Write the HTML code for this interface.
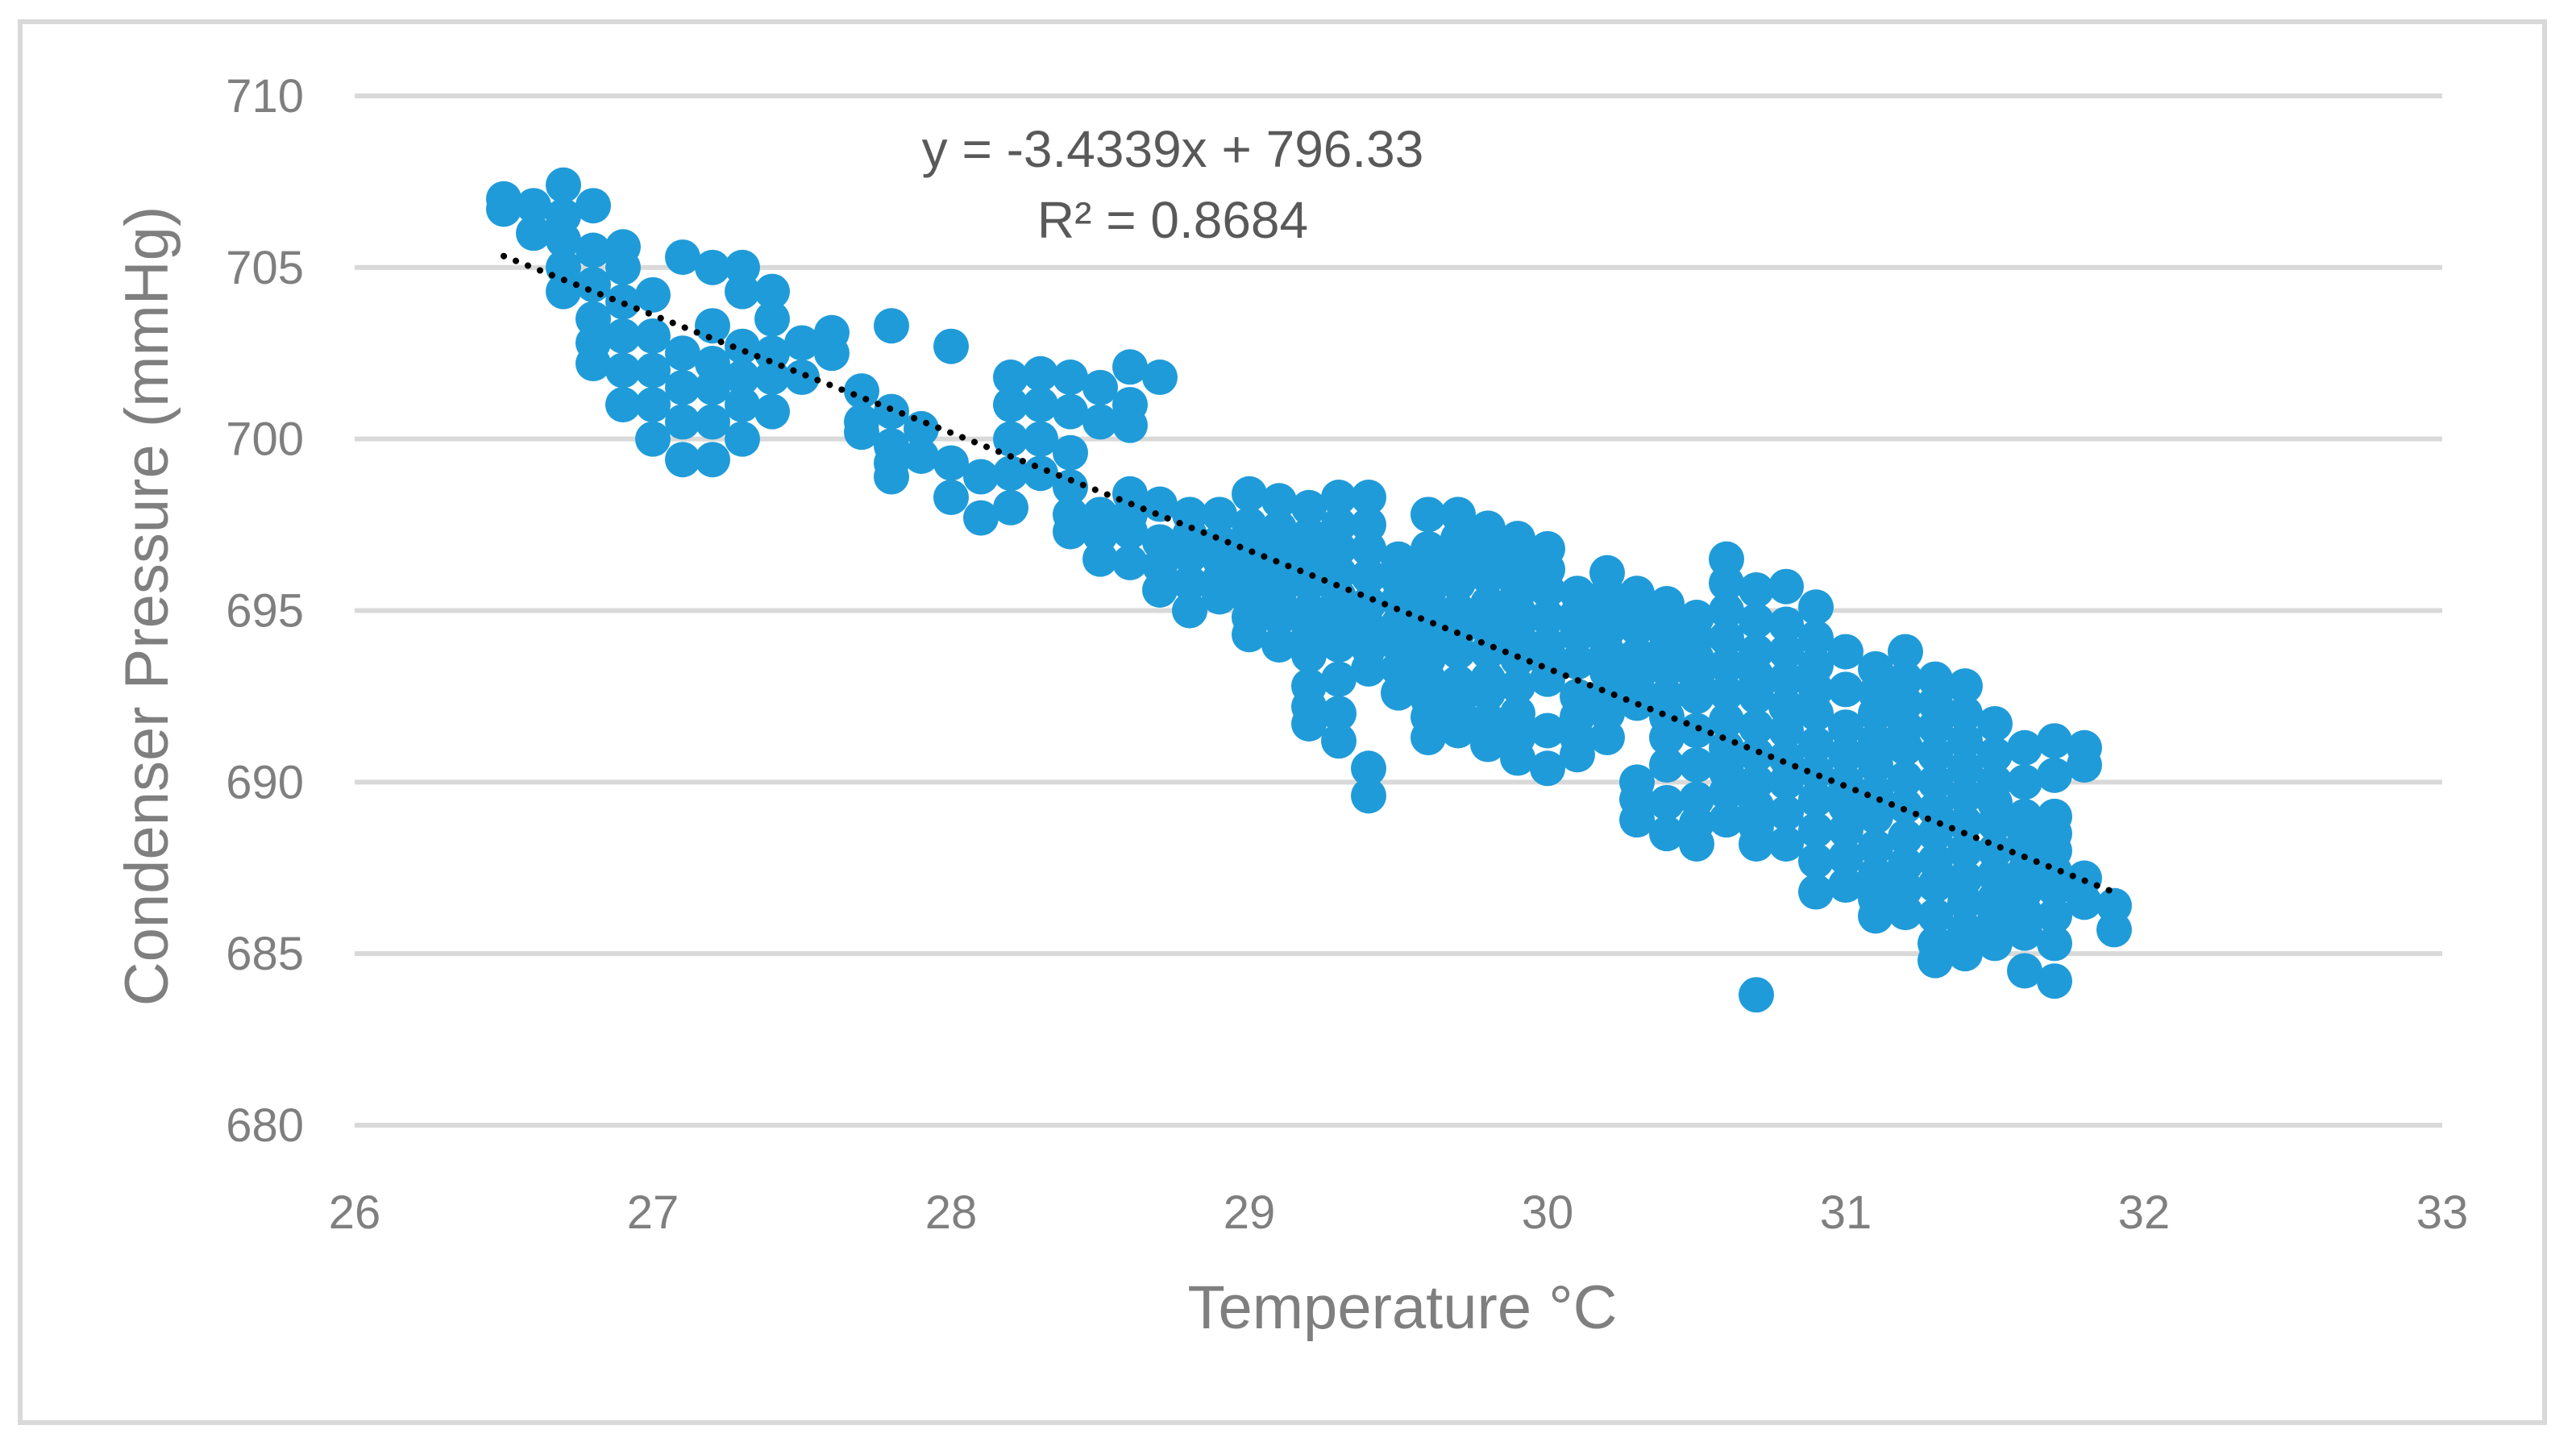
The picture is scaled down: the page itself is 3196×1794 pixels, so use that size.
<!DOCTYPE html>
<html><head><meta charset="utf-8"><style>
html,body{margin:0;padding:0;background:#fff;}
svg{display:block;font-family:"Liberation Sans",sans-serif;}
</style></head><body>
<svg id="chart" width="3196" height="1794" viewBox="0 0 3196 1794">
<rect x="25" y="27" width="3132" height="1738" fill="#fff" stroke="#d9d9d9" stroke-width="6"/>
<g id="grid"></g>
<g id="yticks"></g>
<g id="xticks"></g>
<g id="points"></g>
<line id="trend" stroke="#000" stroke-width="8" stroke-dasharray="0.1 16" stroke-linecap="round"/>
<text x="1455" y="207" font-size="64" fill="#595959" text-anchor="middle">y = -3.4339x + 796.33</text>
<text x="1455" y="295" font-size="64" fill="#595959" text-anchor="middle">R² = 0.8684</text>
<text x="1740" y="1648" font-size="76" fill="#7f7f7f" text-anchor="middle">Temperature °C</text>
<text transform="translate(208,752) rotate(-90)" font-size="76" fill="#7f7f7f" text-anchor="middle">Condenser Pressure (mmHg)</text>
</svg>
<script>
const xTicks=[26,27,28,29,30,31,32,33];
const yTicks=[680,685,690,695,700,705,710];
const colX=[26.5,26.6,26.7,26.8,26.9,27.0,27.1,27.2,27.3,27.4,27.5,27.6,27.7,27.8,27.9,28.0,28.1,28.2,28.3,28.4,28.5,28.6,28.7,28.8,28.9,29.0,29.1,29.2,29.3,29.4,29.5,29.6,29.7,29.8,29.9,30.0,30.1,30.2,30.3,30.4,30.5,30.6,30.7,30.8,30.9,31.0,31.1,31.2,31.3,31.4,31.5,31.6,31.7,31.8,31.9];
const colY=[
[707,706.7],[706.8,706],[707.4,706.5,705.8,705,704.3],[706.8,705.5,704.5,703.5,702.8,702.2],[705.6,705,704,703,702,701],
[704.2,703,702,701,700],[705.3,702.5,701.5,700.5,699.4],[705,703.3,702.2,701.5,700.5,699.4],[705,704.3,702.7,701.8,701,700],[704.3,703.5,702.5,701.8,700.8],
[702.8,701.8],[703.1,702.5],[701.4,700.5,700.2],[703.3,700.8,699.8,699.3,698.9],[700.3,699.5],
[702.7,699.3,698.3],[698.9,697.7],[701.8,701,700,699,698],[701.9,701,700,699],[701.8,700.8,699.6,698.6,697.8,697.3],
[701.5,700.5,697.8,697.2,696.5],[702.1,701,700.4,698.4,697.8,697.3,696.4],[701.8,698.1,697,696.3,695.6],[697.8,697.2,696.6,695.8,695],[697.8,697,696.5,695.9,695.4],
[698.4,697.5,696.9,696.4,695.8,695.3,694.8,694.3],[698.2,697.4,696.7,696.1,695.5,694.8,694],[698,697.2,696.5,695.8,695,694.3,693.7,692.8,692.2,691.7],[698.3,697.5,696.8,696.1,695.4,694.7,694,693,692,691.2],[698.3,697.5,696.8,696,695.2,694.5,693.9,693.3,690.4,689.6],
[696.5,695.9,695.3,694.6,694,693.3,692.6],[697.8,696.8,696.1,695.5,694.9,694.3,693.6,693,692.4,691.9,691.3],[697.8,697.1,696.5,695.8,695,694.4,693.8,692.9,692.2,691.5],[697.4,696.7,696,695.2,694.5,693.8,693,692.6,691.8,691.1],[697.1,696.5,696,695.5,695,694.3,693.6,692.8,692,691.3,690.7],
[696.8,696.2,695.6,694.8,694,693.5,693,691.5,690.4],[695.5,694.9,694.3,693.5,692.5,691.9,691.3,690.8],[696.1,695.5,695,694.4,693.8,693.2,692.6,692,691.3],[695.5,695,694.5,693.7,693,692.3,690,689.5,688.9],[695.2,694.6,694,693.3,692.5,691.9,691.3,690.5,689.4,688.5],
[694.8,694.2,693.6,693,692.5,691.5,690.5,689.5,688.8,688.2],[696.5,695.8,695,694.2,693.4,692.6,691.8,691,690.3,689.7,688.9],[695.6,694.7,693.8,693.1,692.5,691.6,690.8,690,689.3,688.7,688.2,683.8],[695.7,694.6,693.8,693,692.2,691.5,690.7,690,689.1,688.2],[695.1,694.2,693.4,692.7,692,691.1,690.3,689.5,688.6,687.7,686.8],
[693.8,692.7,691.6,690.8,690,689.3,688.6,687.8,687],[693.3,692.6,692,691.2,690.5,689.7,689,688.1,687.3,686.6,686.1],[693.8,693,692.3,691.6,691,690.1,689.3,688.4,687.6,686.9,686.2],[693,692.3,691.6,690.8,690,689.2,688.5,687.7,687,686.1,685.3,684.8],[692.8,692,691.2,690.4,689.6,688.8,688,687.2,686.5,685.7,685],
[691.7,690.8,690,689.4,688.8,688,687.3,686.6,686,685.3],[691,690,689,688.5,688,687.4,686.8,686.2,685.6,684.5],[691.2,690.2,689,688.5,688,687.4,686.9,686.1,685.3,684.2],[691,690.5,687.2,686.5],[686.4,685.7]
];
const trendSlope=-3.4339, trendIntercept=796.33, trendRange=[26.5,31.9];
const X0=440,X1=3030,Y0=1396,Y1=119;
function sx(v){return X0+(v-26)/(33-26)*(X1-X0);}
function sy(v){return Y0-(v-680)/(710-680)*(Y0-Y1);}
const NS="http://www.w3.org/2000/svg";
const grid=document.getElementById('grid'),yt=document.getElementById('yticks'),xt=document.getElementById('xticks'),pts=document.getElementById('points');
yTicks.forEach(v=>{
  const l=document.createElementNS(NS,'line');
  l.setAttribute('x1',X0);l.setAttribute('x2',X1);l.setAttribute('y1',sy(v));l.setAttribute('y2',sy(v));
  l.setAttribute('stroke','#d9d9d9');l.setAttribute('stroke-width','6');
  
  
  grid.appendChild(l);
  const t=document.createElementNS(NS,'text');
  t.setAttribute('x',377);t.setAttribute('y',sy(v)+20);t.setAttribute('text-anchor','end');
  t.setAttribute('font-size','58');t.setAttribute('fill','#7f7f7f');t.textContent=v;
  
  
  yt.appendChild(t);
});
xTicks.forEach(v=>{
  const t=document.createElementNS(NS,'text');
  t.setAttribute('x',sx(v));t.setAttribute('y',1524);t.setAttribute('text-anchor','middle');
  t.setAttribute('font-size','58');t.setAttribute('fill','#7f7f7f');t.textContent=v;
  
  
  xt.appendChild(t);
});
colX.forEach((x,i)=>{
  colY[i].forEach(y=>{
    const c=document.createElementNS(NS,'circle');
    c.setAttribute('cx',sx(x));c.setAttribute('cy',sy(y));c.setAttribute('r','22');c.setAttribute('fill','#1f9bd9');
    
    
    pts.appendChild(c);
  });
});
const tr=document.getElementById('trend');
tr.setAttribute('x1',sx(trendRange[0]));tr.setAttribute('y1',sy(trendSlope*trendRange[0]+trendIntercept));
tr.setAttribute('x2',sx(trendRange[1]));tr.setAttribute('y2',sy(trendSlope*trendRange[1]+trendIntercept));
</script>
</body></html>
